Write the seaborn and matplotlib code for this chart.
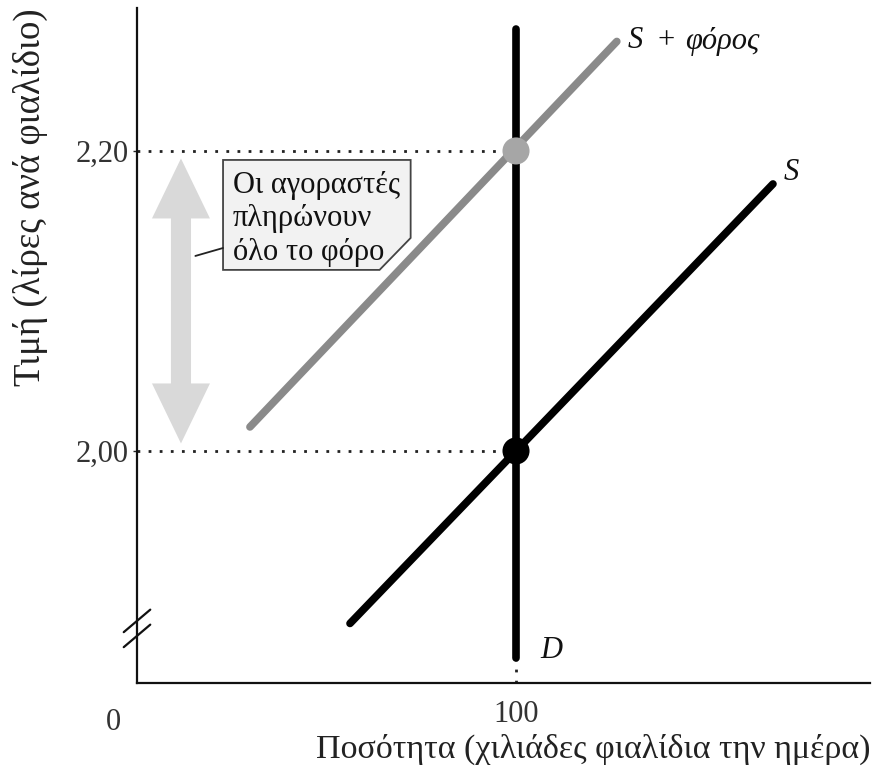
import matplotlib
matplotlib.use("Agg")
import matplotlib.pyplot as plt
import seaborn as sns
import pandas as pd
from matplotlib.patches import Polygon, FancyArrow

# ---- data ----
supply_q = [56.2, 167.8]
supply_p = [1.885, 2.178]
tax_q = [29.8, 126.6]
tax_p = [2.016, 2.273]
demand_q = [100, 100]
demand_p = [1.862, 2.281]
eq_q = [100, 100]
eq_p = [2.00, 2.20]
eq_kind = ["before", "after"]
y_ticks = [2.00, 2.20]
y_ticklabels = ["2,00", "2,20"]
x_ticks = [100]
x_ticklabels = ["100"]
callout_text = "Οι αγοραστές\nπληρώνουν\nόλο το φόρο"

sns.set_theme(style="white")
plt.rcParams['font.family'] = ['Liberation Serif', 'DejaVu Serif']

fig = plt.figure(figsize=(8.81, 7.75), dpi=100)
ax = fig.add_axes([137/881, 92/775, 733/881, 675/775])

XMIN, XMAX = 0, 193.4
YMIN, YMAX = 1.8453, 2.2953
ax.set_xlim(XMIN, XMAX)
ax.set_ylim(YMIN, YMAX)

BLACK = "#000000"
GRAY = "#8a8a8a"
TXT = "#111111"

# dotted guides
for yv in y_ticks:
    ax.plot([XMIN, 100], [yv, yv], linestyle=(0, (1, 3)), color="#222222", lw=2, zorder=1)
ax.plot([100, 100], [YMIN, demand_p[0]], linestyle=(0, (1, 3)), color="#222222", lw=2, zorder=1)

# double arrow
arrow_x = 11.6
top, bot = 2.195, 2.005
mid = (top + bot) / 2
for end in (top, bot):
    ax.add_patch(FancyArrow(arrow_x, mid, 0, end - mid, width=5.3, head_width=15.3,
                            head_length=0.04, length_includes_head=True, color="#d9d9d9",
                            lw=0, zorder=1))

df_s = pd.DataFrame({"q": supply_q, "p": supply_p})
df_t = pd.DataFrame({"q": tax_q, "p": tax_p})
df_d = pd.DataFrame({"q": demand_q, "p": demand_p})
sns.lineplot(data=df_t, x="q", y="p", color=GRAY, lw=5.5, ax=ax, sort=False,
             estimator=None, zorder=3)
sns.lineplot(data=df_s, x="q", y="p", color=BLACK, lw=5.5, ax=ax, sort=False,
             estimator=None, zorder=3)
sns.lineplot(data=df_d, x="q", y="p", color=BLACK, lw=5.5, ax=ax, sort=False,
             estimator=None, zorder=4)
df_eq = pd.DataFrame({"q": eq_q, "p": eq_p, "k": eq_kind})
sns.scatterplot(data=df_eq, x="q", y="p", hue="k", palette={"before": BLACK, "after": "#a6a6a6"},
                s=380, linewidth=0, ax=ax, legend=False, zorder=5)

# callout box with chamfered corner
bx0, bx1 = 22.7, 72.2
by0, by1 = 2.1207, 2.194
chx, chy = 64.0, 2.142
ax.add_patch(Polygon([(bx0, by1), (bx1, by1), (bx1, chy), (chx, by0), (bx0, by0)],
                     closed=True, facecolor="#f2f2f2", edgecolor="#444444", lw=1.3, zorder=6))
ax.plot([bx0, 15.4], [2.1353, 2.130], color="#222222", lw=1.3, zorder=6)
ax.text(25.2, 2.1547, callout_text, fontsize=22, va="center", ha="left",
        linespacing=1.2, zorder=7, color=TXT)

# curve labels
ax.text(129.5, 2.2733, "S", fontsize=22, va="center", ha="left", style="italic", color=TXT)
ax.text(137.3, 2.2733, "+", fontsize=22, va="center", ha="left", color=TXT)
ax.text(144.6, 2.2733, "φόρος", fontsize=22, va="center", ha="left", style="italic", color=TXT)
ax.text(170.5, 2.1853, "S", fontsize=22, va="center", ha="left", style="italic", color=TXT)
ax.text(106.3, 1.867, "D", fontsize=22, va="center", ha="left", style="italic", color=TXT)

# axes styling
for side in ["top", "right"]:
    ax.spines[side].set_visible(False)
for side in ["left", "bottom"]:
    ax.spines[side].set_color("#111111")
    ax.spines[side].set_linewidth(1.6)
ax.set_yticks(y_ticks)
ax.set_yticklabels(y_ticklabels, fontsize=22, color="#333333")
ax.set_xticks(x_ticks)
ax.set_xticklabels(x_ticklabels, fontsize=22, color="#333333")
ax.tick_params(axis="y", length=3, width=1, pad=3, left=True)
ax.tick_params(axis="x", length=0, pad=12)
ax.text(-6.3, YMIN - 0.0165, "0", fontsize=22, ha="center", va="top", color="#333333",
        clip_on=False)
ax.set_xlabel("Ποσότητα (χιλιάδες φιαλίδια την ημέρα)", fontsize=24.5, color="#222222",
              loc="right", labelpad=4)
ax.set_ylabel("Τιμή (λίρες ανά φιαλίδιο)", fontsize=26.5, color="#222222", loc="top",
              labelpad=20)

# axis break marks
for dy in (0.0, 0.01):
    ax.plot([-3.5, 3.5], [1.8767 + dy - 0.0075, 1.8767 + dy + 0.0075], color="#111111",
            lw=1.6, clip_on=False, zorder=8)

fig.savefig("out.png", dpi=100)
